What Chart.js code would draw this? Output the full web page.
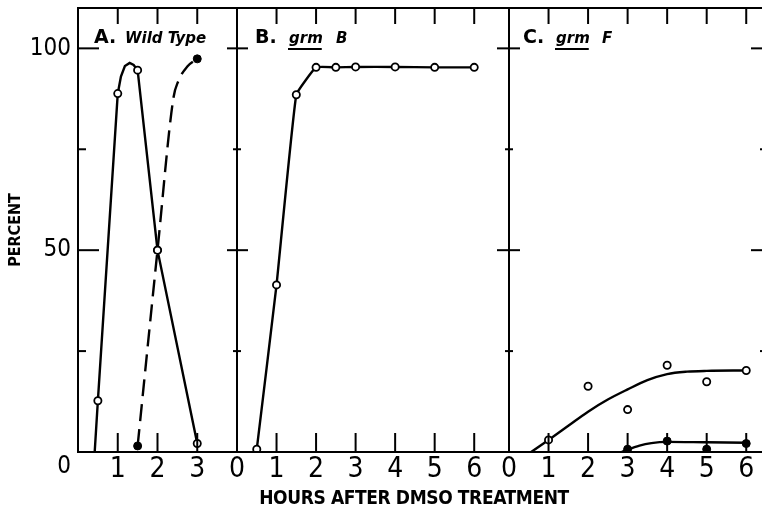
<!DOCTYPE html>
<html>
<head>
<meta charset="utf-8">
<script src="https://cdn.jsdelivr.net/npm/chart.js@4.4.1/dist/chart.umd.min.js"></script>
<style>
body { margin: 0; background: #fff; overflow: hidden; }
#wrap { position: relative; width: 780px; height: 508px; }
#wrap canvas { position: absolute; left: 0; top: 0; }
</style>
</head>
<body>
<div id="wrap">
<canvas id="panelA" width="780" height="508"></canvas>
<canvas id="panelB" width="780" height="508"></canvas>
<canvas id="panelC" width="780" height="508"></canvas>
</div>
<script>
// A. wild type
const wtOpenHours = [0.5, 1, 1.5, 2, 3]
const wtOpen = [12.7, 88.8, 94.6, 50, 2.1]
const wtFilledHours = [1.5, 2, 3]
const wtFilled = [1.5, 50, 97.4]
const wtOpenCurveHours = [0.42, 0.5, 1, 1.08, 1.18, 1.3, 1.4, 1.5, 2, 3]
const wtOpenCurve = [0, 12.7, 88.8, 93, 95.6, 96.4, 95.9, 94.6, 50, 2.1]
const wtFilledCurveHours = [1.5, 2, 2.4, 2.52, 2.75, 3]
const wtFilledCurve = [1.5, 50, 87.7, 91.8, 95.5, 97.4]

// B. grm B
const grmBHours = [0.5, 1, 1.5, 2, 2.5, 3, 4, 5, 6]
const grmB = [0.7, 41.4, 88.5, 95.3, 95.3, 95.4, 95.4, 95.3, 95.3]

// C. grm F
const grmFOpenHours = [1, 2, 3, 4, 5, 6]
const grmFOpen = [3.0, 16.3, 10.5, 21.5, 17.4, 20.2]
const grmFFilledHours = [3, 4, 5, 6]
const grmFFilled = [0.7, 2.7, 0.7, 2.1]
const grmFOpenCurveHours = [0.56, 1, 1.5, 2, 2.5, 3, 3.5, 4, 4.5, 5, 6]
const grmFOpenCurve = [0, 3, 6.5, 10, 13, 15.5, 17.8, 19.3, 19.9, 20.1, 20.2]
const grmFFilledCurveHours = [2.85, 3, 3.3, 3.6, 4, 5, 6]
const grmFFilledCurve = [0, 0.6, 1.6, 2.2, 2.5, 2.4, 2.3]

// axes
const yTickValues = [0, 25, 50, 75, 100]
const yTickLabels = ['0', '', '50', '', '100']
const xTicksA = [1, 2, 3]
const xTickLabelsA = ['1', '2', '3']
const xTicksBC = [0, 1, 2, 3, 4, 5, 6]
const xTickLabelsBC = ['0', '1', '2', '3', '4', '5', '6']

const NARROW = "'Liberation Sans Narrow', 'DejaVu Sans Condensed', 'Liberation Sans', sans-serif"
const LABELFONT = "'DejaVu Sans', sans-serif"

const pts = (xs, ys) => xs.map((x, i) => ({x: x, y: ys[i]}))

function openDots(xs, ys) {
    return {data: pts(xs, ys), showLine: false, pointRadius: 3.6, pointBorderWidth: 1.8,
        pointBackgroundColor: '#fff', pointBorderColor: '#000'}
}
function filledDots(xs, ys) {
    return {data: pts(xs, ys), showLine: false, pointRadius: 4, pointBorderWidth: 1,
        pointBackgroundColor: '#000', pointBorderColor: '#000'}
}
function curve(xs, ys, extra) {
    return Object.assign({data: pts(xs, ys), showLine: true, pointRadius: 0, borderColor: '#000', borderWidth: 2.4,
        cubicInterpolationMode: 'monotone', fill: false}, extra || {})
}

// frame, inward ticks and panel names
const framePlugin = {
    id: 'frame',
    afterDatasetsDraw(chart, args, o) {
        const ctx = chart.ctx, a = chart.chartArea
        const x = chart.scales.x, y = chart.scales.y
        ctx.save()
        ctx.strokeStyle = '#000'
        ctx.lineWidth = 2
        ctx.strokeRect(a.left, a.top, a.right - a.left, a.bottom - a.top)
        const seg = (x1, y1, x2, y2) => { ctx.beginPath(); ctx.moveTo(x1, y1); ctx.lineTo(x2, y2); ctx.stroke() }
        o.xTicks.forEach(v => {
            if (v <= 0) return
            const px = x.getPixelForValue(v)
            seg(px, a.bottom, px, a.bottom - 19)
            seg(px, a.top, px, a.top + 16)
        })
        yTickValues.forEach(v => {
            if (v <= 0) return
            const py = y.getPixelForValue(v)
            const major = v % 50 === 0
            seg(a.left, py, a.left + (major ? o.leftMajor : o.leftMinor), py)
            seg(a.right, py, a.right - (major ? o.rightMajor : o.rightMinor), py)
        })
        ctx.fillStyle = '#000'
        ctx.textBaseline = 'alphabetic'
        o.names.forEach(n => {
            ctx.font = n.font
            const tx = a.left + n.dx
            ctx.fillText(n.text, tx, 43)
            if (n.underline) {
                const w = ctx.measureText(n.text).width
                ctx.lineWidth = 2
                seg(tx - 1, 49, tx + w - 1, 49)
            }
        })
        if (o.axisTitle) {
            ctx.font = "bold 19px " + NARROW
            ctx.textAlign = 'center'
            ctx.letterSpacing = '-0.4px'
            ctx.fillText(o.axisTitle, 414, 504)
        }
        ctx.restore()
    }
}

function makePanel(id, xMax, xTicks, xLabels, datasets, padLeft, padRight, withY, frame) {
    return new Chart(document.getElementById(id), {
        type: 'scatter',
        data: {datasets: datasets},
        options: {
            responsive: false,
            animation: false,
            layout: {padding: {left: padLeft, right: padRight, top: 8, bottom: 0}},
            plugins: {legend: {display: false}, tooltip: {enabled: false}, frame: frame},
            scales: {
                x: {
                    type: 'linear', min: 0, max: xMax,
                    afterBuildTicks: s => { s.ticks = xTicks.map(v => ({value: v})) },
                    afterFit: s => { s.height = 56; s.paddingLeft = 0; s.paddingRight = 0 },
                    grid: {display: false, drawTicks: false},
                    border: {display: false},
                    ticks: {
                        callback: (v) => xLabels[xTicks.indexOf(v)],
                        color: '#000', padding: 1, maxRotation: 0, autoSkip: false,
                        font: {family: NARROW, size: 28}
                    }
                },
                y: {
                    display: withY,
                    type: 'linear', min: 0, max: 110,
                    afterBuildTicks: s => { s.ticks = yTickValues.map(v => ({value: v})) },
                    afterFit: s => {
                        s.width = withY ? 78 : 0
                        s.paddingTop = 0
                        s.paddingBottom = 0
                    },
                    grid: {display: false, drawTicks: false},
                    border: {display: false},
                    title: {display: true, text: 'PERCENT', color: '#000', padding: {top: 6, bottom: 0},
                        font: {family: NARROW, size: 16, weight: 'bold'}},
                    ticks: {
                        // the corner "0" sits on the hour-label row
                        callback: (v) => v === 0 ? ['', '0'] : yTickLabels[yTickValues.indexOf(v)],
                        color: '#000', padding: 7,
                        font: {family: NARROW, size: 24, lineHeight: 1.25}
                    }
                }
            }
        },
        plugins: [framePlugin]
    })
}

makePanel('panelA', 4.0, xTicksA, xTickLabelsA, [
    openDots(wtOpenHours, wtOpen),
    filledDots(wtFilledHours, wtFilled),
    curve(wtOpenCurveHours, wtOpenCurve, {cubicInterpolationMode: 'default', tension: 0}),
    curve(wtFilledCurveHours, wtFilledCurve, {borderDash: [17, 8]})
], 0, 780 - 237, true, {
    xTicks: xTicksA, leftMajor: 21, leftMinor: 8, rightMajor: 10, rightMinor: 4,
    names: [
        {text: 'A.', dx: 16, font: 'bold 19px ' + LABELFONT},
        {text: 'Wild Type', dx: 47, font: 'italic bold 15px ' + LABELFONT}
    ],
    axisTitle: 'HOURS AFTER DMSO TREATMENT'
})

makePanel('panelB', 6.88, xTicksBC, xTickLabelsBC, [
    openDots(grmBHours, grmB),
    curve(grmBHours, grmB, {cubicInterpolationMode: 'default', tension: 0.1})
], 237, 780 - 509, false, {
    xTicks: xTicksBC, leftMajor: 11, leftMinor: 4, rightMajor: 12, rightMinor: 4,
    names: [
        {text: 'B.', dx: 18, font: 'bold 19px ' + LABELFONT},
        {text: 'grm', dx: 52, font: 'italic bold 15px ' + LABELFONT, underline: true},
        {text: 'B', dx: 99, font: 'italic bold 15px ' + LABELFONT}
    ]
})

makePanel('panelC', 6.5, xTicksBC, xTickLabelsBC, [
    openDots(grmFOpenHours, grmFOpen),
    filledDots(grmFFilledHours, grmFFilled),
    curve(grmFOpenCurveHours, grmFOpenCurve),
    curve(grmFFilledCurveHours, grmFFilledCurve)
], 509, 780 - 766, false, {
    xTicks: xTicksBC, leftMajor: 11, leftMinor: 4, rightMajor: 15, rightMinor: 6,
    names: [
        {text: 'C.', dx: 14, font: 'bold 19px ' + LABELFONT},
        {text: 'grm', dx: 47, font: 'italic bold 15px ' + LABELFONT, underline: true},
        {text: 'F', dx: 93, font: 'italic bold 15px ' + LABELFONT}
    ]
})
</script>
</body>
</html>
